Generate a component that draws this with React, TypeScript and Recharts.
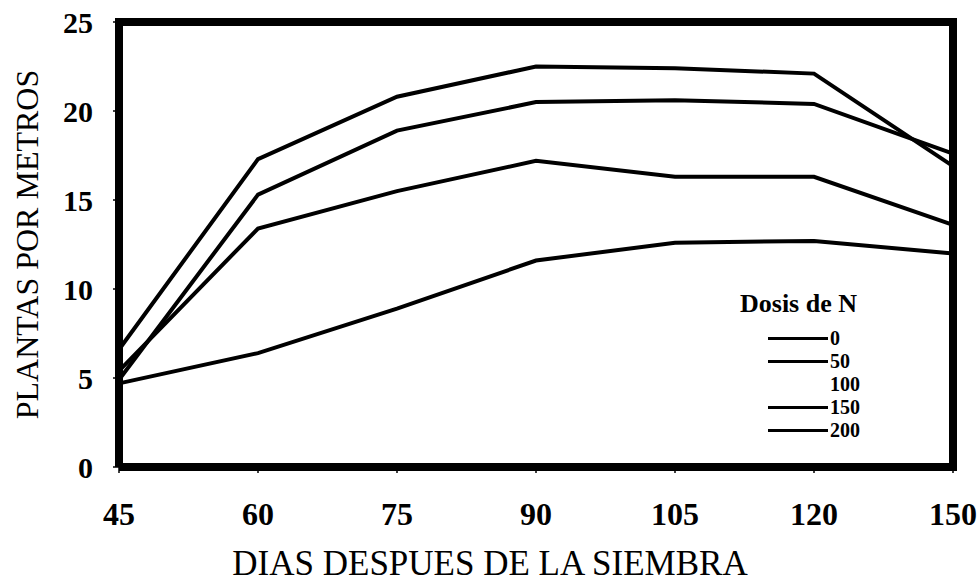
import React from "react";
import {
  LineChart,
  Line,
  XAxis,
  YAxis,
  ReferenceLine,
  Legend,
} from "recharts";

const FONT = '"Liberation Serif", "Times New Roman", serif';

// days after sowing (x categories)
const DAYS = ["45", "60", "75", "90", "105", "120", "150"];
// nitrogen doses shown in the legend
const DOSES = ["0", "50", "100", "150", "200"];

const N0 = [4.7, 6.4, 8.9, 11.6, 12.6, 12.7, 12.0];
const N50 = [5.4, 13.4, 15.5, 17.2, 16.3, 16.3, 13.6];
const N150 = [4.9, 15.3, 18.9, 20.5, 20.6, 20.4, 17.6];
const N200 = [6.6, 17.3, 20.8, 22.5, 22.4, 22.1, 16.9];

const Y_TICKS = [0, 5, 10, 15, 20, 25];

const SERIES = [
  { key: "n0", name: "0", values: N0 },
  { key: "n50", name: "50", values: N50 },
  { key: "n150", name: "150", values: N150 },
  { key: "n200", name: "200", values: N200 },
];

const data = DAYS.map((day, i) => {
  const row: Record<string, string | number> = { day };
  SERIES.forEach((s) => {
    row[s.key] = s.values[i];
  });
  return row;
});

// legend: the "100" entry has no series, so it gets no line
const renderLegend = (props: any) => {
  const payload = props.payload || [];
  return (
    <div style={{ fontFamily: FONT, color: "#000" }}>
      <div style={{ fontWeight: "bold", fontSize: 26, lineHeight: "30px" }}>
        Dosis de N
      </div>
      <div style={{ marginTop: 8 }}>
        {DOSES.map((d) => {
          const hasLine = payload.some((p: any) => p.value === d);
          return (
            <div
              key={d}
              style={{ display: "flex", alignItems: "center", height: 23 }}
            >
              <span
                style={{
                  display: "inline-block",
                  marginLeft: 28,
                  width: 60,
                  borderTop: hasLine ? "3px solid #000" : "3px solid transparent",
                }}
              />
              <span style={{ fontWeight: "bold", fontSize: 20, marginLeft: 2 }}>
                {d}
              </span>
            </div>
          );
        })}
      </div>
    </div>
  );
};

const App = () => {
  return (
    <div style={{ width: 979, height: 584, background: "#fff" }}>
      <style>{"body{margin:0}"}</style>
      <LineChart
        width={979}
        height={584}
        data={data}
        margin={{ top: 22, right: 26, bottom: 0, left: 0 }}
      >
        <XAxis
          dataKey="day"
          height={117}
          interval={0}
          padding={{ left: 0, right: 0 }}
          axisLine={{ stroke: "#000", strokeWidth: 8 }}
          tickLine={{ stroke: "#000", strokeWidth: 1.5 }}
          tickSize={6}
          tickMargin={29}
          tick={{ fill: "#000", fontSize: 32, fontWeight: "bold", fontFamily: FONT }}
          label={{
            value: "DIAS DESPUES DE LA SIEMBRA",
            position: "insideBottom",
            offset: 9,
            dx: -46,
            style: { fill: "#000", fontSize: 35, fontFamily: FONT },
          }}
        />
        <YAxis
          width={119}
          domain={[0, 25]}
          ticks={Y_TICKS}
          axisLine={{ stroke: "#000", strokeWidth: 8 }}
          tickLine={{ stroke: "#000", strokeWidth: 1.5 }}
          tickSize={6}
          tickMargin={20}
          tick={{ fill: "#000", fontSize: 30, fontWeight: "bold", fontFamily: FONT }}
          label={{
            value: "PLANTAS POR METROS",
            angle: -90,
            position: "insideLeft",
            offset: 27,
            style: {
              fill: "#000",
              fontSize: 32,
              fontFamily: FONT,
              textAnchor: "middle",
            },
          }}
        />
        <ReferenceLine y={25} stroke="#000" strokeWidth={8} strokeLinecap="square" />
        <ReferenceLine x="150" stroke="#000" strokeWidth={8} strokeLinecap="square" />
        {SERIES.map((s) => (
          <Line
            key={s.key}
            dataKey={s.key}
            name={s.name}
            type="linear"
            stroke="#000"
            strokeWidth={4}
            dot={false}
            isAnimationActive={false}
          />
        ))}
        <Legend
          layout="vertical"
          align="center"
          verticalAlign="middle"
          content={renderLegend}
          wrapperStyle={{ left: 740, top: 289, width: 170, right: "auto", bottom: "auto" }}
        />
      </LineChart>
    </div>
  );
};

export default App;
